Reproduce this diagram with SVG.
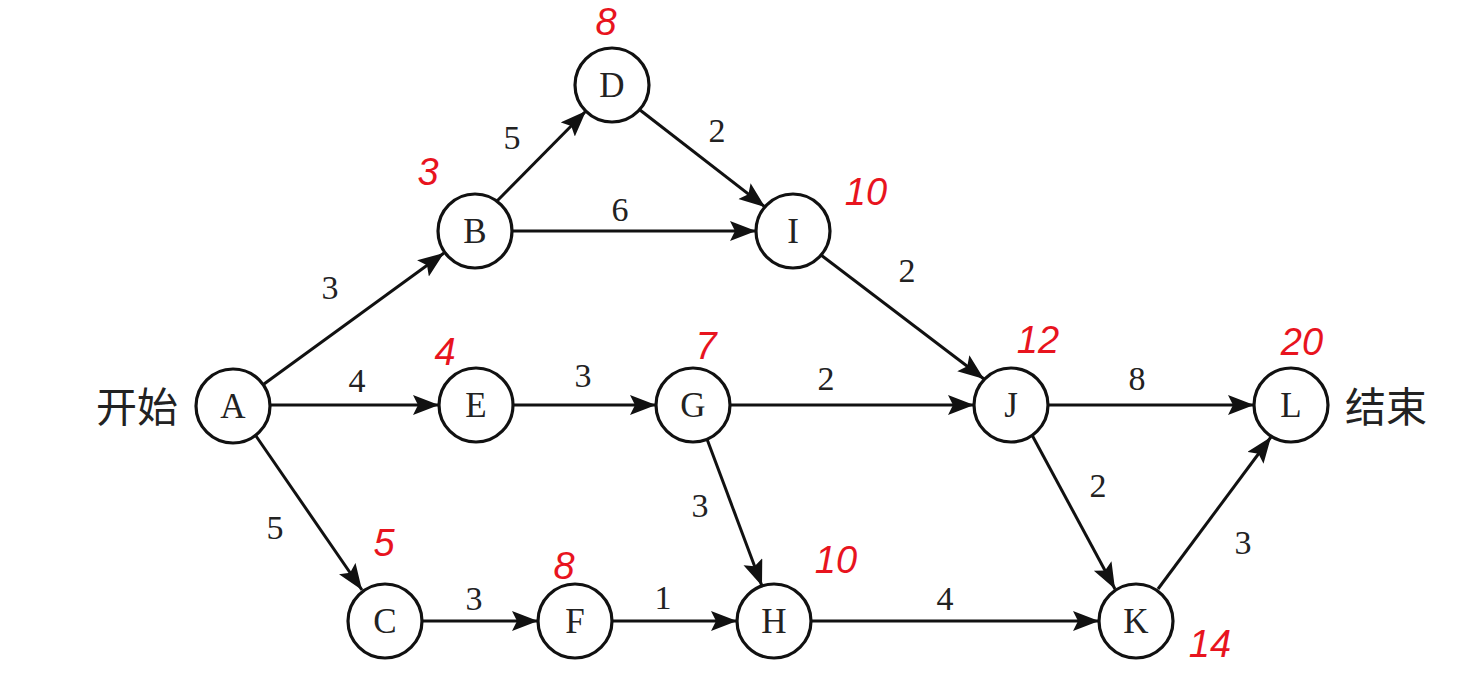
<svg xmlns="http://www.w3.org/2000/svg" width="1473" height="681" viewBox="0 0 1473 681">
<style>
.node circle{fill:#fff;stroke:#111;stroke-width:3.2}
.node text{font-family:"Liberation Serif",serif;font-size:35px;fill:#222;text-anchor:middle;dominant-baseline:central}
.edge{stroke:#111;stroke-width:3;fill:none;marker-end:url(#arr)}
.w{font-family:"Liberation Serif",serif;font-size:34px;fill:#222;text-anchor:middle;dominant-baseline:central}
.cn{font-family:"Noto Sans CJK SC",sans-serif;font-size:41px;fill:#222;dominant-baseline:central}
.red{font-family:"Liberation Sans",sans-serif;font-size:38px;fill:#e8141e;font-style:italic;text-anchor:middle;dominant-baseline:central}
</style>
<defs>
<marker id="arr" markerUnits="userSpaceOnUse" markerWidth="28" markerHeight="22" refX="26" refY="10" orient="auto">
<path d="M0,0 L26,10 L0,20 L5,10 z" fill="#111"/>
</marker>
</defs>
<rect width="1473" height="681" fill="#fff"/>
<g id="connectors">
<line class="edge" x1="264" y1="384" x2="444" y2="253"/>
<line class="edge" x1="270" y1="405" x2="439" y2="405"/>
<line class="edge" x1="256" y1="436" x2="362" y2="590"/>
<line class="edge" x1="497" y1="201" x2="586" y2="111"/>
<line class="edge" x1="512" y1="231" x2="756" y2="231"/>
<line class="edge" x1="640" y1="110" x2="765" y2="207"/>
<line class="edge" x1="821" y1="255" x2="984" y2="379"/>
<line class="edge" x1="513" y1="405" x2="656" y2="405"/>
<line class="edge" x1="730" y1="405" x2="974" y2="405"/>
<line class="edge" x1="707" y1="439" x2="762" y2="586"/>
<line class="edge" x1="1048" y1="405" x2="1254" y2="405"/>
<line class="edge" x1="1032" y1="435" x2="1115" y2="589"/>
<line class="edge" x1="422" y1="621" x2="538" y2="621"/>
<line class="edge" x1="612" y1="621" x2="737" y2="621"/>
<line class="edge" x1="811" y1="621" x2="1099" y2="621"/>
<line class="edge" x1="1158" y1="589" x2="1271" y2="437"/>
</g>
<g id="weights">
<text class="w" x="330" y="287">3</text>
<text class="w" x="357" y="380">4</text>
<text class="w" x="275" y="527">5</text>
<text class="w" x="512" y="137">5</text>
<text class="w" x="620" y="209">6</text>
<text class="w" x="717" y="130">2</text>
<text class="w" x="907" y="270">2</text>
<text class="w" x="583" y="375">3</text>
<text class="w" x="826" y="378">2</text>
<text class="w" x="700" y="505">3</text>
<text class="w" x="1137" y="378">8</text>
<text class="w" x="1098" y="485">2</text>
<text class="w" x="474" y="598">3</text>
<text class="w" x="663" y="597">1</text>
<text class="w" x="945" y="598">4</text>
<text class="w" x="1243" y="542">3</text>
</g>
<g id="node-A" class="node"><circle cx="233" cy="406" r="37"/><text x="233" y="406">A</text></g>
<g id="node-B" class="node"><circle cx="475" cy="231" r="37"/><text x="475" y="231">B</text></g>
<g id="node-D" class="node"><circle cx="612" cy="85" r="37"/><text x="612" y="85">D</text></g>
<g id="node-I" class="node"><circle cx="793" cy="231" r="37"/><text x="793" y="231">I</text></g>
<g id="node-E" class="node"><circle cx="476" cy="405" r="37"/><text x="476" y="405">E</text></g>
<g id="node-G" class="node"><circle cx="693" cy="405" r="37"/><text x="693" y="405">G</text></g>
<g id="node-J" class="node"><circle cx="1011" cy="405" r="37"/><text x="1011" y="405">J</text></g>
<g id="node-L" class="node"><circle cx="1291" cy="405" r="37"/><text x="1291" y="405">L</text></g>
<g id="node-C" class="node"><circle cx="385" cy="621" r="37"/><text x="385" y="621">C</text></g>
<g id="node-F" class="node"><circle cx="575" cy="621" r="37"/><text x="575" y="621">F</text></g>
<g id="node-H" class="node"><circle cx="774" cy="621" r="37"/><text x="774" y="621">H</text></g>
<g id="node-K" class="node"><circle cx="1136" cy="621" r="37"/><text x="1136" y="621">K</text></g>
<g id="labels">
<text class="cn" x="96" y="404">开始</text>
<text class="cn" x="1345" y="404">结束</text>
</g>
<g id="annotations">
<text class="red" x="606" y="22">8</text>
<text class="red" x="428" y="172">3</text>
<text class="red" x="866" y="192">10</text>
<text class="red" x="445" y="352">4</text>
<text class="red" x="706" y="346">7</text>
<text class="red" x="1038" y="340">12</text>
<text class="red" x="1302" y="342">20</text>
<text class="red" x="384" y="543">5</text>
<text class="red" x="564" y="566">8</text>
<text class="red" x="836" y="560">10</text>
<text class="red" x="1210" y="644">14</text>
</g>
</svg>
